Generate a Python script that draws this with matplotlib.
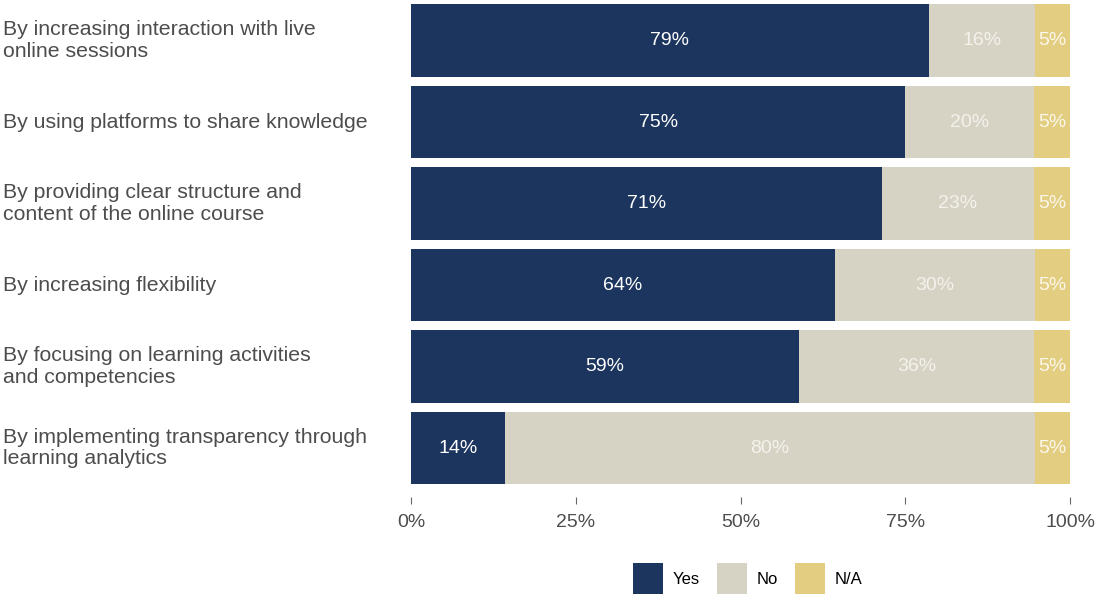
import matplotlib.pyplot as plt
import matplotlib.transforms as mtransforms
from matplotlib.patches import Patch

plt.rcParams['font.family'] = ['Liberation Sans', 'DejaVu Sans']

categories = [
    "By increasing interaction with live\nonline sessions",
    "By using platforms to share knowledge",
    "By providing clear structure and\ncontent of the online course",
    "By increasing flexibility",
    "By focusing on learning activities\nand competencies",
    "By implementing transparency through\nlearning analytics",
]
yes = [78.6, 75.0, 71.4, 64.3, 58.9, 14.3]
no = [16.1, 19.6, 23.2, 30.4, 35.7, 80.4]
na = [5.3, 5.4, 5.4, 5.3, 5.4, 5.3]
series_names = ['Yes', 'No', 'N/A']
colors = ['#1c355e', '#d6d2c4', '#e3cd81']
label_colors = ['white', '#f4f2ec', '#fbf7ea']

fig = plt.figure(figsize=(10.98, 5.94), dpi=100)
ax = fig.add_axes([411 / 1098, 97 / 594, 659 / 1098, 494 / 594])

ypos = list(range(len(categories)))
left = [0.0] * len(categories)
for vals, name, col, lcol in zip([yes, no, na], series_names, colors, label_colors):
    ax.barh(ypos, vals, left=left, height=0.89, color=col, edgecolor='none')
    for y, l, v in zip(ypos, left, vals):
        ax.text(l + v / 2, y, f"{round(v)}%", ha='center', va='center',
                color=lcol, fontsize=14)
    left = [a + b for a, b in zip(left, vals)]

ax.set_xlim(0, 100)
ax.set_ylim(5.60, -0.46)
ax.set_xticks([0, 25, 50, 75, 100])
ax.set_xticklabels(['0%', '25%', '50%', '75%', '100%'])
ax.tick_params(axis='x', length=5, color='#666666', labelcolor='#4d4d4d',
               labelsize=14, pad=7)
ax.set_yticks([])
for s in ax.spines.values():
    s.set_visible(False)

# category labels flush with the left edge of the figure
trans = mtransforms.blended_transform_factory(fig.transFigure, ax.transData)
for y, cat in zip(ypos, categories):
    ax.text(3 / 1098, y, cat, transform=trans, ha='left', va='center',
            color='#4d4d4d', fontsize=15.3, linespacing=1.17)

handles = [Patch(facecolor=c, edgecolor='none', label=n)
           for c, n in zip(colors, series_names)]
fig.legend(handles=handles, loc='lower center', ncol=3, frameon=False,
           bbox_to_anchor=(0.681, -0.027), fontsize=12, handlelength=1.8,
           handleheight=2.6, handletextpad=0.6, columnspacing=1.0)

fig.savefig('out.png', dpi=100)
